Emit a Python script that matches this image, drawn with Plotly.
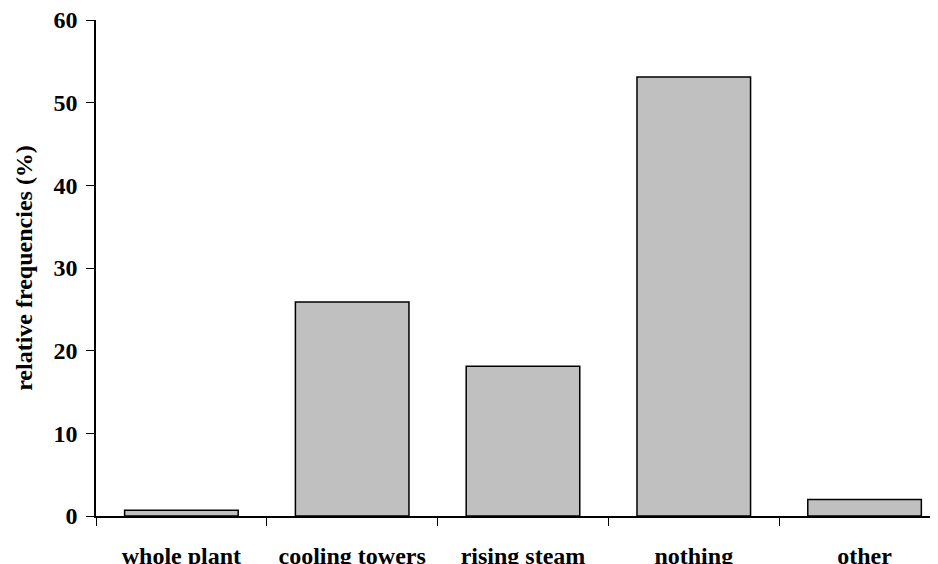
import plotly.graph_objects as go

categories = ["whole plant", "cooling towers", "rising steam", "nothing", "other"]
values = [0.7, 25.9, 18.1, 53.1, 2.0]
y_ticks = [0, 10, 20, 30, 40, 50, 60]

FONT = "Liberation Serif, Times New Roman, serif"

fig = go.Figure(
    go.Bar(
        x=categories,
        y=values,
        marker=dict(color="#C0C0C0", line=dict(color="black", width=1.5)),
    )
)

fig.update_layout(
    width=938,
    height=564,
    margin=dict(l=88, r=8, t=12, b=56, autoexpand=False),
    plot_bgcolor="white",
    paper_bgcolor="white",
    bargap=0.335,
    showlegend=False,
    font=dict(family=FONT, color="black", size=24, weight="bold"),
)

fig.update_xaxes(
    type="category",
    range=[-0.5, 4.43],
    automargin=False,
    showline=True,
    linecolor="black",
    linewidth=1.5,
    ticks="outside",
    tickson="boundaries",
    ticklen=8,
    tickcolor="black",
    tickwidth=1,
    ticklabelstandoff=17,
    ticklabeloverflow="allow",
    tickfont=dict(family=FONT, size=24, color="black", weight="bold"),
    showgrid=False,
    zeroline=False,
)

fig.update_yaxes(
    range=[0, 60],
    tickvals=y_ticks,
    automargin=False,
    showline=True,
    linecolor="black",
    linewidth=1.5,
    ticks="outside",
    ticklen=8,
    tickcolor="black",
    tickwidth=1,
    ticklabelstandoff=4,
    ticklabeloverflow="allow",
    tickfont=dict(family=FONT, size=24, color="black", weight="bold"),
    showgrid=False,
    zeroline=False,
    title=dict(
        text="relative frequencies (%)",
        font=dict(family=FONT, size=24, color="black", weight="bold"),
        standoff=14,
    ),
)

fig.write_html("out.html")
